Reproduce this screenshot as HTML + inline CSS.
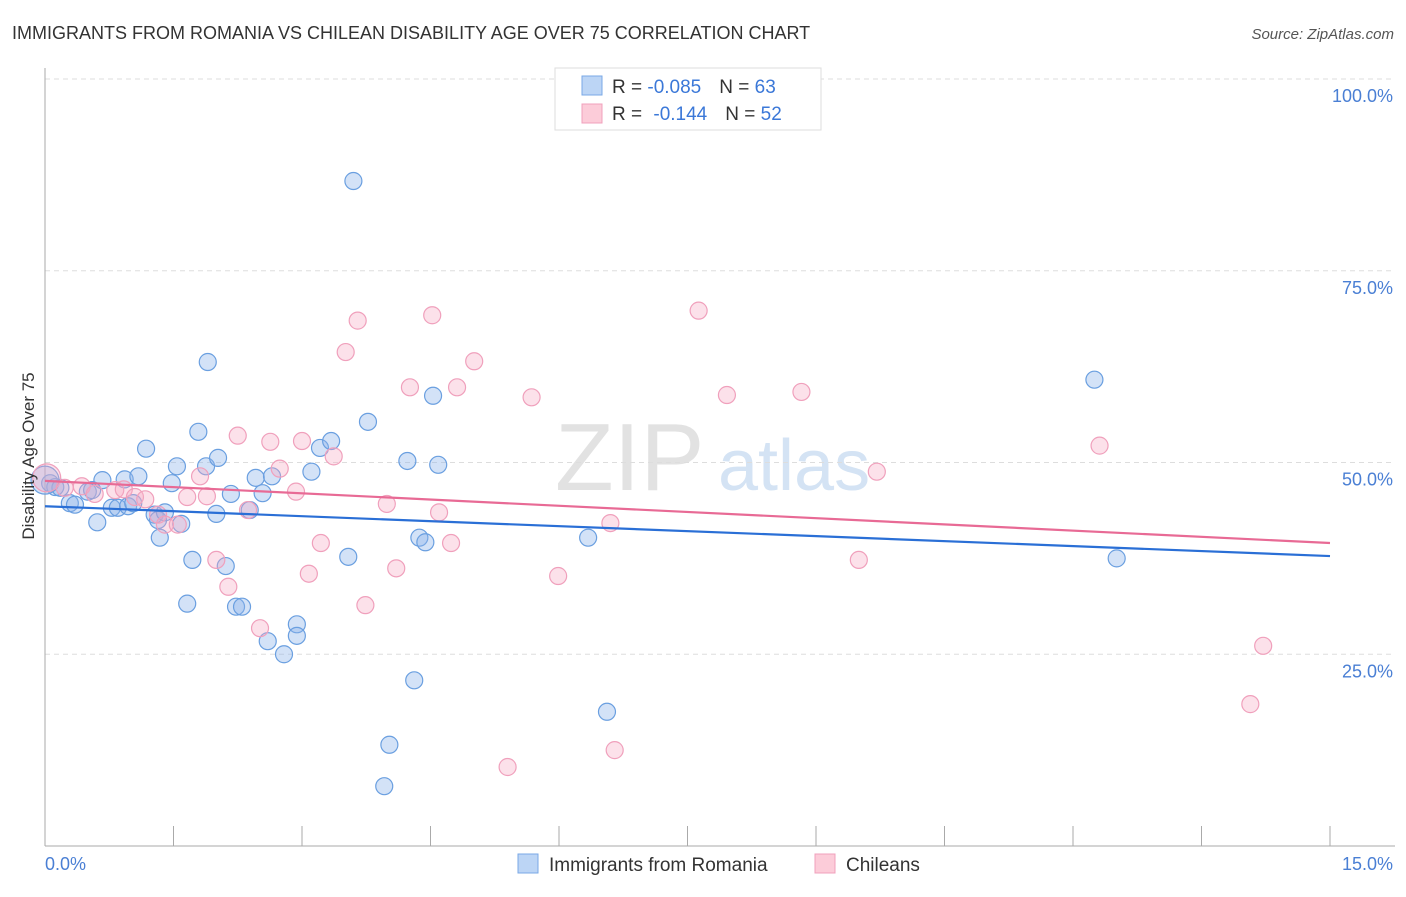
<!DOCTYPE html>
<html><head><meta charset="utf-8"><style>
body{margin:0;background:#fff;font-family:"Liberation Sans",sans-serif}
svg text{font-family:"Liberation Sans",sans-serif}
</style></head><body>
<svg id="c" width="1406" height="892" xmlns="http://www.w3.org/2000/svg">
<text x="12" y="39" font-size="18" fill="#333">IMMIGRANTS FROM ROMANIA VS CHILEAN DISABILITY AGE OVER 75 CORRELATION CHART</text>
<text x="1394" y="39" font-size="15" fill="#555" font-style="italic" text-anchor="end">Source: ZipAtlas.com</text>
<g><text x="555" y="490" font-size="96" font-family="Liberation Serif" fill="#e2e2e2">ZIP</text><text x="718" y="490" font-size="72" fill="#d4e3f4">atlas</text></g>
<g id="grid"></g>
<line x1="45" y1="68" x2="45" y2="846" stroke="#aaa"/>
<line x1="45" y1="846" x2="1395" y2="846" stroke="#aaa"/>
<g id="ticks"></g>
<g id="pts"></g>
<g id="lines"></g>
<text transform="translate(34,456) rotate(-90)" font-size="17" fill="#333" text-anchor="middle">Disability Age Over 75</text>
<text x="45" y="870" font-size="18" fill="#4a7fd4">0.0%</text>
<text x="1393" y="870" font-size="18" fill="#4a7fd4" text-anchor="end">15.0%</text>
<g>
<rect x="555" y="68" width="266" height="62" fill="#fff" stroke="#ddd"/>
<rect x="582" y="76" width="20" height="19" fill="#bcd5f5" stroke="#7aa8e6"/>
<rect x="582" y="104" width="20" height="19" fill="#fcccd9" stroke="#f0a0bc"/>
<text x="612" y="93" font-size="19" fill="#333">R = <tspan fill="#3b78d8">-0.085</tspan><tspan dx="18">N = </tspan><tspan fill="#3b78d8">63</tspan></text>
<text x="612" y="120" font-size="19" fill="#333">R = <tspan dx="6" fill="#3b78d8">-0.144</tspan><tspan dx="18">N = </tspan><tspan fill="#3b78d8">52</tspan></text>
</g>
<g>
<rect x="518" y="854" width="20" height="19" fill="#bcd5f5" stroke="#7aa8e6"/>
<text x="549" y="871" font-size="19" fill="#333">Immigrants from Romania</text>
<rect x="815" y="854" width="20" height="19" fill="#fcccd9" stroke="#f0a0bc"/>
<text x="846" y="871" font-size="19" fill="#333">Chileans</text>
</g>
</svg>
<script>
const yTicks=[25,50,75,100];
const yTickLabels=["25.0%","50.0%","75.0%","100.0%"];
const xTicks=[0,1.5,3,4.5,6,7.5,9,10.5,12,13.5,15];
const blueX=[0.06,0.12,0.18,0.29,0.35,0.50,0.55,0.61,0.67,0.78,0.85,0.93,0.97,1.03,1.09,1.18,1.28,1.32,1.34,1.40,1.48,1.54,1.59,1.66,1.72,1.79,1.88,1.90,2.00,2.02,2.11,2.17,2.23,2.30,2.39,2.46,2.54,2.60,2.65,2.79,2.94,2.94,3.11,3.21,3.34,3.54,3.60,3.77,4.02,3.96,4.23,4.31,4.37,4.44,4.53,4.59,6.34,6.56,12.25,12.51,0.0];
const blueY=[47.3,46.8,46.7,44.7,44.5,46.2,46.4,42.2,47.7,44.1,44.1,47.8,44.3,44.7,48.2,51.8,43.2,42.5,40.2,43.5,47.3,49.5,42.0,31.6,37.3,54.0,49.5,63.1,43.3,50.6,36.5,45.9,31.2,31.2,43.8,48.0,46.0,26.7,48.2,25.0,28.9,27.4,48.8,51.9,52.8,37.7,86.7,55.3,13.2,7.8,50.2,21.6,40.2,39.6,58.7,49.7,40.2,17.5,60.8,37.5,47.7];
const pinkX=[0.02,0.23,0.43,0.58,0.82,0.92,1.05,1.17,1.32,1.40,1.55,1.66,1.81,1.89,2.00,2.14,2.25,2.37,2.51,2.63,2.74,2.93,3.00,3.08,3.22,3.37,3.51,3.65,3.74,3.99,4.10,4.26,4.52,4.60,4.74,4.81,5.01,5.40,5.68,5.99,6.60,6.65,7.63,7.96,8.83,9.50,9.71,12.31,14.22,14.07];
const pinkY=[48.0,46.7,46.9,45.9,46.4,46.5,45.5,45.2,43.2,41.9,41.9,45.5,48.2,45.6,37.3,33.8,53.5,43.8,28.4,52.7,49.2,46.2,52.8,35.5,39.5,50.8,64.4,68.5,31.4,44.6,36.2,59.8,69.2,43.5,39.5,59.8,63.2,10.3,58.5,35.2,42.1,12.5,69.8,58.8,59.2,37.3,48.8,52.2,26.1,18.5];
const blueTrend=[44.3,37.8];
const pinkTrend=[47.6,39.5];
const NS="http://www.w3.org/2000/svg";
const sx=v=>45+v/15*1285;
const sy=v=>846-v/100*767;
function mk(tag,attrs,parent){const e=document.createElementNS(NS,tag);for(const k in attrs)e.setAttribute(k,attrs[k]);document.getElementById(parent).appendChild(e);return e;}
yTicks.forEach((t,i)=>{
 const l=mk('line',{x1:45,x2:1395,y1:sy(t),y2:sy(t),stroke:'#ddd','stroke-dasharray':'5,4'},'grid');
 
 
 const tx=mk('text',{x:1393,y:sy(t)+23,'font-size':18,fill:'#4a7fd4','text-anchor':'end'},'grid');
 tx.textContent=yTickLabels[i];
 
 
});
xTicks.forEach(t=>{
 const l=mk('line',{x1:sx(t),x2:sx(t),y1:826,y2:846,stroke:'#aaa'},'ticks');
 
 
});
function pts(X,Y,fill,stroke,name){X.forEach((x,i)=>{
 const c=mk('circle',{cx:sx(x),cy:sy(Y[i]),r:(i==X.length-1&&name=='blue-point')||(i==0&&name=='pink-point')?14:8.5,fill:fill,stroke:stroke,'stroke-width':1.2},'pts');
 
 
});}
pts(blueX,blueY,'rgba(140,180,235,0.38)','#6a9fe0','blue-point');
pts(pinkX,pinkY,'rgba(245,170,195,0.35)','#f0a0bc','pink-point');
const b=mk('line',{x1:sx(0),y1:sy(blueTrend[0]),x2:sx(15),y2:sy(blueTrend[1]),stroke:'#2a6fd6','stroke-width':2.2},'lines');


const p=mk('line',{x1:sx(0),y1:sy(pinkTrend[0]),x2:sx(15),y2:sy(pinkTrend[1]),stroke:'#e86a95','stroke-width':2.2},'lines');


</script>
</body></html>
